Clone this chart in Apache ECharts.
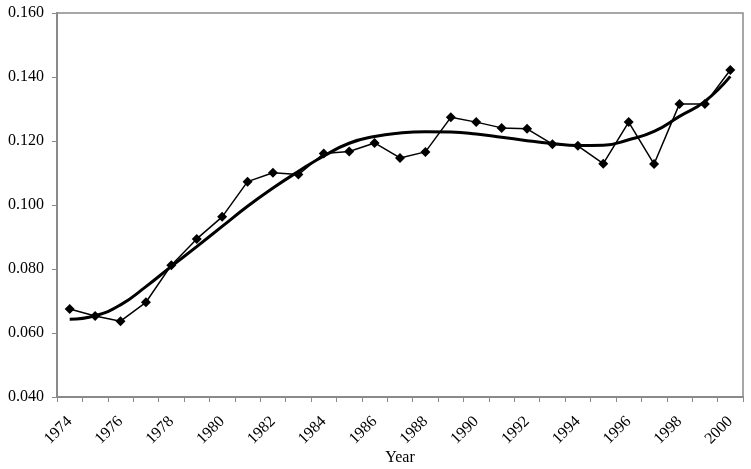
<!DOCTYPE html>
<html>
<head>
<meta charset="utf-8">
<script src="https://cdn.jsdelivr.net/npm/echarts@6/dist/echarts.min.js"></script>
<style>html,body{margin:0;padding:0;background:#fff}#c{width:751px;height:469px}</style>
</head>
<body>
<div id="c"></div>
<script>
var years = ['1974','1975','1976','1977','1978','1979','1980','1981','1982','1983','1984','1985','1986','1987','1988','1989','1990','1991','1992','1993','1994','1995','1996','1997','1998','1999','2000'];
var observed = [0.0675,0.0653,0.0637,0.0696,0.0812,0.0894,0.0963,0.1073,0.1101,0.1095,0.1161,0.1167,0.1194,0.1147,0.1166,0.1274,0.1259,0.1241,0.1238,0.1190,0.1185,0.1129,0.1259,0.1128,0.1316,0.1316,0.1422];
var trend = [0.0643,0.0654,0.0688,0.0745,0.0808,0.0870,0.0933,0.0996,0.1053,0.1105,0.1153,0.1193,0.1214,0.1225,0.1229,0.1228,0.1222,0.1212,0.1201,0.1192,0.1186,0.1187,0.1204,0.1230,0.1277,0.1324,0.1402];
var yTicks = {min:0.04, max:0.16, step:0.02};
var xTitle = 'Year';

var chart = echarts.init(document.getElementById('c'), null, {renderer:'canvas'});
var font = 'Liberation Serif';
chart.setOption({
  animation:false,
  backgroundColor:'#fff',
  grid:{left:57,right:8,top:13,bottom:72,show:true,borderColor:'#8a8a8a',borderWidth:1.5,containLabel:false,outerBoundsMode:'none'},
  xAxis:{
    type:'category', data:years, boundaryGap:true,
    name:xTitle, nameLocation:'middle', nameGap:53, nameMoveOverlap:false,
    nameTextStyle:{fontFamily:font,fontSize:16,color:'#000'},
    axisLine:{lineStyle:{color:'#8a8a8a',width:2}},
    axisTick:{show:true,interval:0,length:5,lineStyle:{color:'#8a8a8a',width:1}},
    axisLabel:{interval:1,rotate:45,margin:22,fontFamily:font,fontSize:16,color:'#000'},
    splitLine:{show:false}
  },
  yAxis:{
    type:'value', min:yTicks.min, max:yTicks.max, interval:yTicks.step,
    axisLine:{show:true,lineStyle:{color:'#8a8a8a',width:2}},
    axisTick:{show:true,length:5,lineStyle:{color:'#8a8a8a',width:1}},
    axisLabel:{margin:13,fontFamily:font,fontSize:16,color:'#000',formatter:function(v){return v.toFixed(3);}},
    splitLine:{show:false}
  },
  series:[
    {type:'line',data:trend,smooth:0.5,symbol:'none',lineStyle:{color:'#000',width:3},z:2},
    {type:'line',data:observed,symbol:'diamond',symbolSize:10,showAllSymbol:true,
     itemStyle:{color:'#000'},lineStyle:{color:'#000',width:1.5},z:3}
  ]
});
</script>
</body>
</html>
